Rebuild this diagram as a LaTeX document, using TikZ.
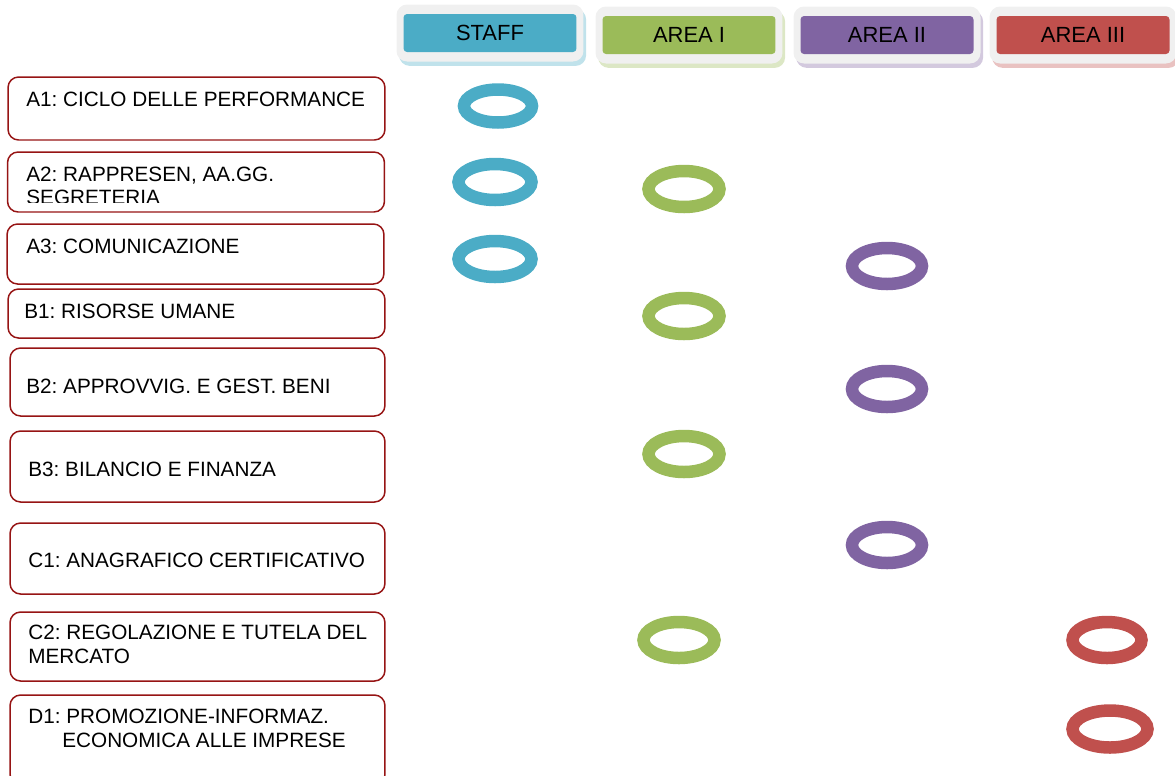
\documentclass[tikz,border=0pt]{standalone}
\usepackage{fontspec}
\setmainfont{Liberation Sans}
\usetikzlibrary{shapes.geometric}
\frenchspacing

\definecolor{staffblue}{RGB}{75,172,198}
\definecolor{areagreen}{RGB}{155,187,89}
\definecolor{areapurple}{RGB}{128,100,162}
\definecolor{areared}{RGB}{192,80,77}
\definecolor{boxred}{RGB}{150,20,20}
\definecolor{framegray}{RGB}{240,240,240}

\tikzset{
  rowbox/.style={draw=boxred,line width=0.85pt,rounded corners=6pt,minimum width=7.54cm},
  rowtext/.style={anchor=west,inner sep=0pt,align=left,font=\fontsize{11.8}{13.3}\selectfont},
  frame/.style={fill=framegray,rounded corners=6pt,minimum width=3.74cm,minimum height=1.14cm},
  head/.style={fill=#1,rounded corners=2pt,minimum width=3.46cm,minimum height=0.76cm,
    font=\fontsize{12.5}{14}\selectfont},
  ring/.style={ellipse,draw=#1,line width=0.25cm,minimum width=1.36cm,minimum height=0.66cm}
}

\begin{document}
\begin{tikzpicture}[x=0.02cm,y=-0.02cm]
  \useasboundingbox (0,0) rectangle (1175,775);

  % column heads
  \foreach \nm/\cx/\cy/\col/\txt in {staff/490/33/staffblue/STAFF,
                                      areaI/689/35/areagreen/AREA I,
                                      areaII/887/35/areapurple/AREA II,
                                      areaIII/1083/35/areared/AREA III}{
    \node[frame,fill=\col!35,xshift=1.5pt,yshift=-2.5pt] at (\cx,\cy) {};
    \node[frame] (\nm f) at (\cx,\cy) {};
    \node[head=\col] (\nm) at (\cx,\cy) {\txt};
  }

  % row boxes
  \node[rowbox,minimum height=1.26cm] (a1) at (196.5,108.5) {};
  \node[rowtext] (a1t) at (26,99.5) {A1: CICLO DELLE PERFORMANCE};

  \node[rowbox,minimum height=1.2cm] (a2) at (196,182) {};
  \begin{scope}
    \clip (20,160) rectangle (380,202);
    \node[rowtext,anchor=north west] (a2t) at (26,166.5) {A2: RAPPRESEN, AA.GG.\\SEGRETERIA};
  \end{scope}

  \node[rowbox,minimum height=1.2cm] (a3) at (195.5,254) {};
  \node[rowtext] (a3t) at (26,246.5) {A3: COMUNICAZIONE};

  \node[rowbox,minimum height=0.98cm] (b1) at (196.5,313.5) {};
  \node[rowtext] (b1t) at (24,311.5) {B1: RISORSE UMANE};

  \node[rowbox,minimum width=7.5cm,minimum height=1.36cm] (b2) at (197.5,382) {};
  \node[rowtext] (b2t) at (26,386.5) {B2: APPROVVIG. E GEST. BENI};

  \node[rowbox,minimum width=7.5cm,minimum height=1.42cm] (b3) at (197.5,466.5) {};
  \node[rowtext] (b3t) at (28,469.5) {B3: BILANCIO E FINANZA};

  \node[rowbox,minimum width=7.5cm,minimum height=1.42cm] (c1) at (197.5,558.5) {};
  \node[rowtext] (c1t) at (28,560.5) {C1: ANAGRAFICO CERTIFICATIVO};

  \node[rowbox,minimum width=7.5cm,minimum height=1.38cm] (c2) at (197.5,646.5) {};
  \node[rowtext,anchor=north west] (c2t) at (28,625) {C2: REGOLAZIONE E TUTELA DEL\\MERCATO};

  \node[rowbox,minimum width=7.5cm,minimum height=1.8cm] (d1) at (197.5,740) {};
  \node[rowtext,anchor=north west] (d1t) at (28,709) {D1: PROMOZIONE-INFORMAZ.\\\hspace*{0.68cm}ECONOMICA ALLE IMPRESE};

  % rings
  \node[ring=staffblue] (sa1) at (498,106) {};
  \node[ring=staffblue,minimum width=1.46cm,minimum height=0.72cm] (sa2) at (495,182) {};
  \node[ring=staffblue,minimum width=1.46cm,minimum height=0.72cm] (sa3) at (495,259) {};

  \node[ring=areagreen,minimum width=1.42cm,minimum height=0.72cm] (ga2) at (684,189) {};
  \node[ring=areagreen,minimum width=1.42cm,minimum height=0.72cm] (gb1) at (684,316) {};
  \node[ring=areagreen,minimum width=1.42cm,minimum height=0.72cm] (gb3) at (684,454) {};
  \node[ring=areagreen,minimum width=1.42cm,minimum height=0.72cm] (gc2) at (679,640) {};

  \node[ring=areapurple,minimum width=1.4cm,minimum height=0.72cm] (pa3) at (887,266) {};
  \node[ring=areapurple,minimum width=1.4cm,minimum height=0.72cm] (pb2) at (887,389) {};
  \node[ring=areapurple,minimum width=1.4cm,minimum height=0.72cm] (pc1) at (887,545) {};

  \node[ring=areared,minimum width=1.38cm,minimum height=0.72cm] (rc2) at (1107,640) {};
  \node[ring=areared,minimum width=1.5cm,minimum height=0.74cm] (rd1) at (1110,729) {};
\end{tikzpicture}
\end{document}
